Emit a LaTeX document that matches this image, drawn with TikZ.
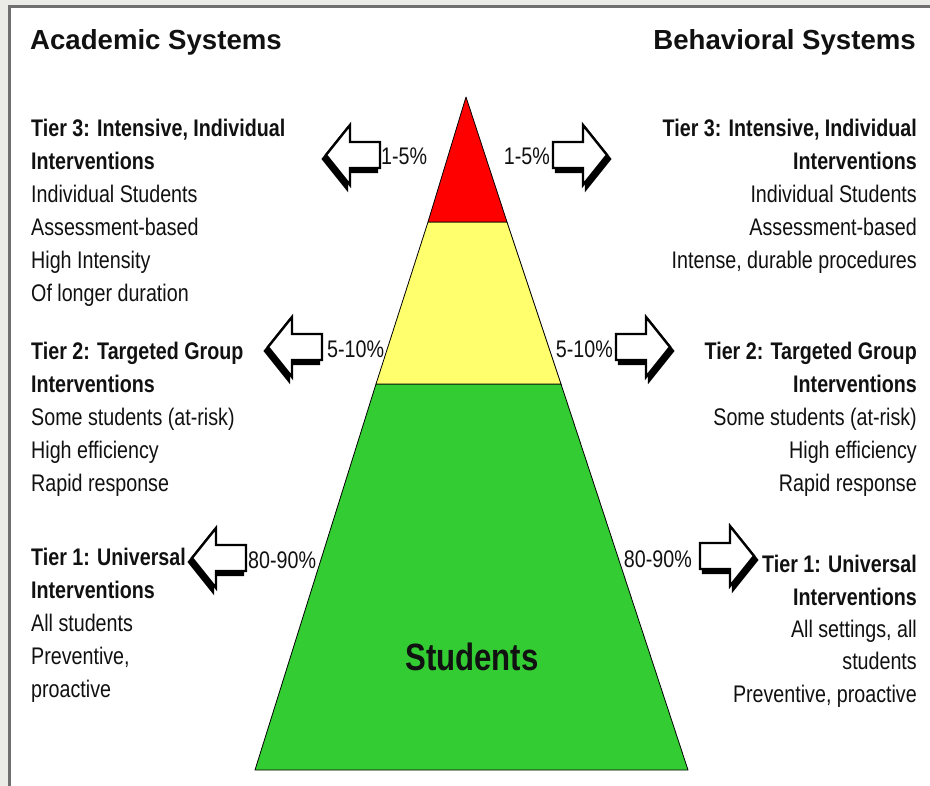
\documentclass[tikz,border=0pt]{standalone}
\usepackage{fontspec}
\setmainfont{Liberation Sans}
\newfontfamily\nar{Liberation Sans}[FakeStretch=0.82]
\definecolor{framegray}{HTML}{EBEBE7}
\definecolor{frameline}{HTML}{707070}
\definecolor{tierred}{HTML}{FF0000}
\definecolor{tieryellow}{HTML}{FFFF6E}
\definecolor{tiergreen}{HTML}{33CC33}
\definecolor{ink}{HTML}{111111}
\begin{document}
\begin{tikzpicture}[x=1pt,y=-1pt,
  txt/.style={font=\nar\fontsize{24}{28}\selectfont, inner sep=0pt, text=ink},
  hd/.style={font=\nar\bfseries\fontsize{24}{28}\selectfont, inner sep=0pt, text=ink},
  ttl/.style={font=\bfseries\fontsize{27.6}{32}\selectfont, inner sep=0pt, text=ink},
  big/.style={font=\nar\bfseries\fontsize{38}{44}\selectfont, inner sep=0pt, text=ink},
  tierpart/.style={draw=black, line width=0.8pt, line join=round},
  blockarrow/.pic={
    \filldraw[black,line width=2.4pt,line join=miter,shift={(-3,4)}] (0,0) -- (24,-30) -- (24,-13) -- (54,-13) -- (54,13) -- (24,13) -- (24,30) -- cycle;
    \filldraw[fill=white,draw=black,line width=2.4pt,line join=miter]
      (0,0) -- (24,-30) -- (24,-13) -- (54,-13) -- (54,13) -- (24,13) -- (24,30) -- cycle;
  }
]
\useasboundingbox (0,0) rectangle (930,786);
% frame
\fill[framegray] (0,0) rectangle (930,786);
\fill[frameline] (8,5) rectangle (930,786);
\fill[white] (10.5,8) rectangle (930,786);

% pyramid
\filldraw[tierpart, fill=tiergreen] (376,384) -- (561,384) -- (688,770) -- (255,770) -- cycle;
\filldraw[tierpart, fill=tieryellow] (428,222) -- (507,222) -- (561,384) -- (376,384) -- cycle;
\filldraw[tierpart, fill=tierred] (466,97) -- (507,222) -- (428,222) -- cycle;
\node[big, anchor=base] (students) at (472,670) {Students};

% titles
\node[ttl, anchor=base west] (acad) at (30,50) {Academic Systems};
\node[ttl, anchor=base east] (behav) at (916,50) {Behavioral Systems};

% arrows
\pic (a3l) at (326,155) {blockarrow};
\pic[xscale=-1] (a3r) at (607,155) {blockarrow};
\pic (a2l) at (268,347) {blockarrow};
\pic[xscale=-1] (a2r) at (670,347) {blockarrow};
\pic (a1l) at (192,558) {blockarrow};
\pic[xscale=-1] (a1r) at (754,556) {blockarrow};

% percentages
\node[txt, anchor=base west] (p3l) at (381,165) {1-5\%};
\node[txt, anchor=base east] (p3r) at (550,165) {1-5\%};
\node[txt, anchor=base west] (p2l) at (327,358) {5-10\%};
\node[txt, anchor=base east] (p2r) at (613,358) {5-10\%};
\node[txt, anchor=base west] (p1l) at (248,568) {80-90\%};
\node[txt, anchor=base east] (p1r) at (692,567) {80-90\%};

% left column
\node[hd, anchor=base west] (l3h1) at (31,137) {Tier 3: Intensive, Individual};
\node[hd, anchor=base west] (l3h2) at (31,170) {Interventions};
\foreach \t [count=\i] in {Individual Students, Assessment-based, High Intensity, Of longer duration}
  \node[txt, anchor=base west] (l3t\i) at (31,{203+32.8*(\i-1)}) {\t};

\node[hd, anchor=base west] (l2h1) at (31,360) {Tier 2: Targeted Group};
\node[hd, anchor=base west] (l2h2) at (31,393) {Interventions};
\foreach \t [count=\i] in {Some students (at-risk), High efficiency, Rapid response}
  \node[txt, anchor=base west] (l2t\i) at (31,{426+32.5*(\i-1)}) {\t};

\node[hd, anchor=base west] (l1h1) at (31,565) {Tier 1: Universal};
\node[hd, anchor=base west] (l1h2) at (31,598) {Interventions};
\foreach \t [count=\i] in {All students, {Preventive,}, proactive}
  \node[txt, anchor=base west] (l1t\i) at (31,{631+33*(\i-1)}) {\t};

% right column
\node[hd, anchor=base east] (r3h1) at (917,137) {Tier 3: Intensive, Individual};
\node[hd, anchor=base east] (r3h2) at (917,170) {Interventions};
\foreach \t [count=\i] in {Individual Students, Assessment-based, {Intense, durable procedures}}
  \node[txt, anchor=base east] (r3t\i) at (917,{203+32.8*(\i-1)}) {\t};

\node[hd, anchor=base east] (r2h1) at (917,360) {Tier 2: Targeted Group};
\node[hd, anchor=base east] (r2h2) at (917,393) {Interventions};
\foreach \t [count=\i] in {Some students (at-risk), High efficiency, Rapid response}
  \node[txt, anchor=base east] (r2t\i) at (917,{426+32.5*(\i-1)}) {\t};

\node[hd, anchor=base east] (r1h1) at (917,572) {Tier 1: Universal};
\node[hd, anchor=base east] (r1h2) at (917,605) {Interventions};
\foreach \t [count=\i] in {{All settings, all}, students, {Preventive, proactive}}
  \node[txt, anchor=base east] (r1t\i) at (917,{637+32.5*(\i-1)}) {\t};
\end{tikzpicture}
\end{document}
